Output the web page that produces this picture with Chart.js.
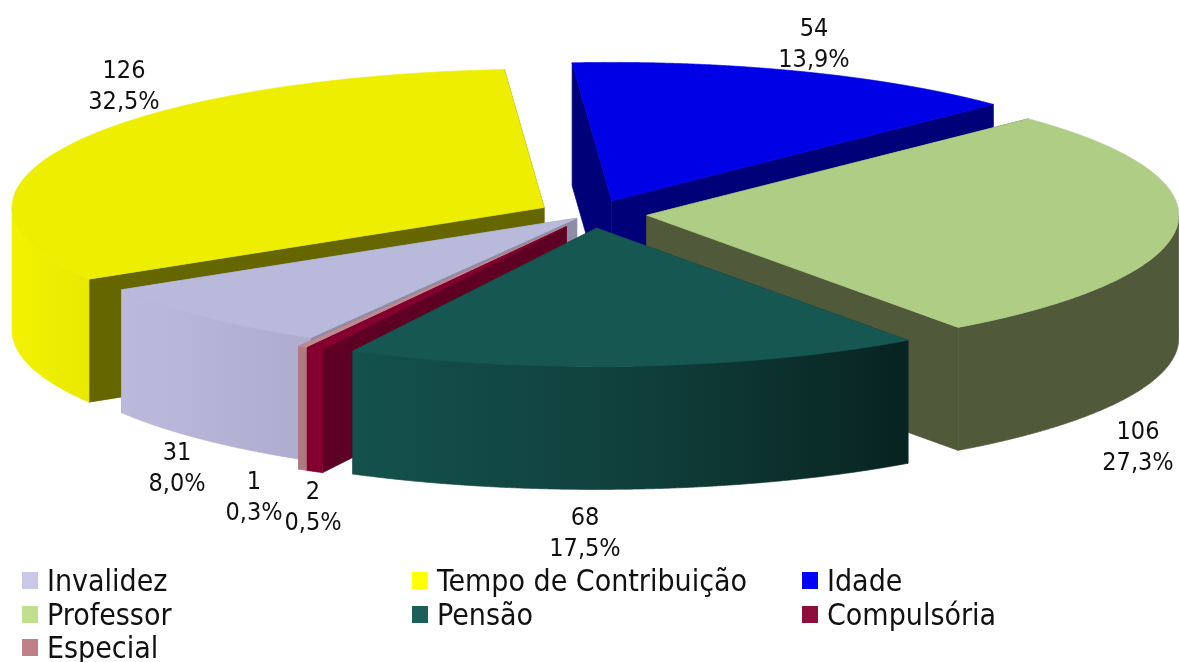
<!DOCTYPE html>
<html>
<head>
<meta charset="utf-8">
<script src="https://cdn.jsdelivr.net/npm/chart.js@4"></script>
<style>
  html, body { margin: 0; background: #fff; }
  #wrap { position: relative; width: 1179px; height: 662px; overflow: hidden; }
  #legenda {
    position: absolute; left: 22px; top: 564px;
    display: grid; grid-template-columns: 390px 390px 375px; grid-auto-rows: 33.6px;
    font: 30px "DejaVu Sans Condensed", "DejaVu Sans", sans-serif; color: #111;
  }
  #legenda div { display: flex; align-items: center; white-space: nowrap; }
  #legenda i { width: 16px; height: 17px; margin-right: 9px; flex: none; }
</style>
</head>
<body>
<div id="wrap">
  <canvas id="chartAposentadorias" width="1179" height="662"></canvas>
  <div id="legenda"></div>
</div>
<script>
const categorias = ['Invalidez', 'Tempo de Contribuição', 'Idade', 'Professor', 'Pensão', 'Compulsória', 'Especial'];
const valores = [31, 126, 54, 106, 68, 2, 1];

const coresLegenda = ['#c8c8e8', '#ffff00', '#0000ff', '#c0e090', '#1a6058', '#8e0f3c', '#c08088'];
const coresTopo = ['#b9b9db', '#eeee00', '#0000e6', '#afcd85', '#165752', '#85002f', '#bd8a92'];
const coresParede = ['#8d8da8', '#666600', '#000078', '#50593a', '#0d3a38', '#5e0024', '#a06a72'];
const coresLado = [
  ['#bbbadd', '#aeacce'],
  ['#f2f200', '#e9e900'],
  ['#000078', '#000078'],
  ['#50593a', '#50593a'],
  ['#14514c', '#10403c', '#082321'],
  ['#85002f', '#85002f'],
  ['#b07880', '#b07880']
];
const explosao = [90, 218, 218, 218, 218, 222, 222];

// centro de cada rotulo na tela, mesma ordem das categorias
const posRotulos = [[177, 453], [124, 71], [814, 29], [1138, 432], [585, 518], [313, 492], [254, 482]];

// fatias de tras para frente
const ordemPintura = [2, 1, 3, 0, 6, 5, 4];

const achatar = 0.26;
const centroY = 214;
const altura = 123;

const legenda = document.getElementById('legenda');
categorias.forEach((nome, i) => {
  const item = document.createElement('div');
  const caixa = document.createElement('i');
  caixa.style.background = coresLegenda[i];
  item.appendChild(caixa);
  item.appendChild(document.createTextNode(nome));
  legenda.appendChild(item);
});

function pinta(ctx, cor) {
  ctx.fillStyle = cor;
  ctx.strokeStyle = cor;
  ctx.lineWidth = 0.7;
  ctx.closePath();
  ctx.fill();
  ctx.stroke();
}

function fatia3d(ctx, el, i) {
  const desloc = el.options.offset / 4;
  const meio = (el.startAngle + el.endAngle) / 2;
  const ox = el.x + Math.cos(meio) * desloc;
  const oy = Math.sin(meio) * desloc;
  const r = el.outerRadius;
  const ponto = (a, raio) => [ox + raio * Math.cos(a), centroY + (oy + raio * Math.sin(a)) * achatar];

  const ponta = ponto(0, 0);
  [el.startAngle, el.endAngle].forEach(a => {
    const p = ponto(a, r);
    ctx.beginPath();
    ctx.moveTo(ponta[0], ponta[1]);
    ctx.lineTo(p[0], p[1]);
    ctx.lineTo(p[0], p[1] + altura);
    ctx.lineTo(ponta[0], ponta[1] + altura);
    pinta(ctx, coresParede[i]);
  });

  // arco externo, so a parte virada para frente
  const arco = [];
  for (let a = el.startAngle; a < el.endAngle; a += 0.002) arco.push(a);
  arco.push(el.endAngle);

  const borda = arco.filter(a => Math.sin(a) >= 0).map(a => ponto(a, r));
  if (borda.length > 1) {
    const xs = borda.map(p => p[0]);
    const grad = ctx.createLinearGradient(Math.min(...xs), 0, Math.max(...xs), 0);
    coresLado[i].forEach((c, n) => grad.addColorStop(n / (coresLado[i].length - 1), c));
    ctx.beginPath();
    borda.forEach((p, n) => n ? ctx.lineTo(p[0], p[1]) : ctx.moveTo(p[0], p[1]));
    borda.slice().reverse().forEach(p => ctx.lineTo(p[0], p[1] + altura));
    pinta(ctx, grad);
  }

  // topo
  ctx.beginPath();
  ctx.moveTo(ponta[0], ponta[1]);
  arco.forEach(a => {
    const p = ponto(a, r);
    ctx.lineTo(p[0], p[1]);
  });
  pinta(ctx, el.options.backgroundColor);
}

const pizza3d = {
  id: 'pizza3d',
  beforeDatasetsDraw(chart) {
    const arcos = chart.getDatasetMeta(0).data;
    ordemPintura.forEach(i => fatia3d(chart.ctx, arcos[i], i));
    return false;
  },
  afterDraw(chart) {
    const ctx = chart.ctx;
    const total = valores.reduce((a, b) => a + b, 0);
    ctx.save();
    ctx.font = '25px "DejaVu Sans Condensed", "DejaVu Sans", sans-serif';
    ctx.fillStyle = '#111';
    ctx.textAlign = 'center';
    ctx.textBaseline = 'middle';
    valores.forEach((v, i) => {
      const pct = (v / total * 100).toFixed(1).replace('.', ',') + '%';
      ctx.fillText(String(v), posRotulos[i][0], posRotulos[i][1]);
      ctx.fillText(pct, posRotulos[i][0], posRotulos[i][1] + 31);
    });
    ctx.restore();
  }
};

new Chart(document.getElementById('chartAposentadorias'), {
  type: 'pie',
  data: {
    labels: categorias,
    datasets: [{
      data: valores,
      backgroundColor: coresTopo,
      borderWidth: 0,
      offset: explosao,
      clip: false
    }]
  },
  options: {
    responsive: false,
    animation: false,
    rotation: 210.05,
    radius: 532,
    layout: { padding: { left: 6 } },
    plugins: {
      legend: { display: false },
      tooltip: { enabled: false }
    }
  },
  plugins: [pizza3d]
});
</script>
</body>
</html>
